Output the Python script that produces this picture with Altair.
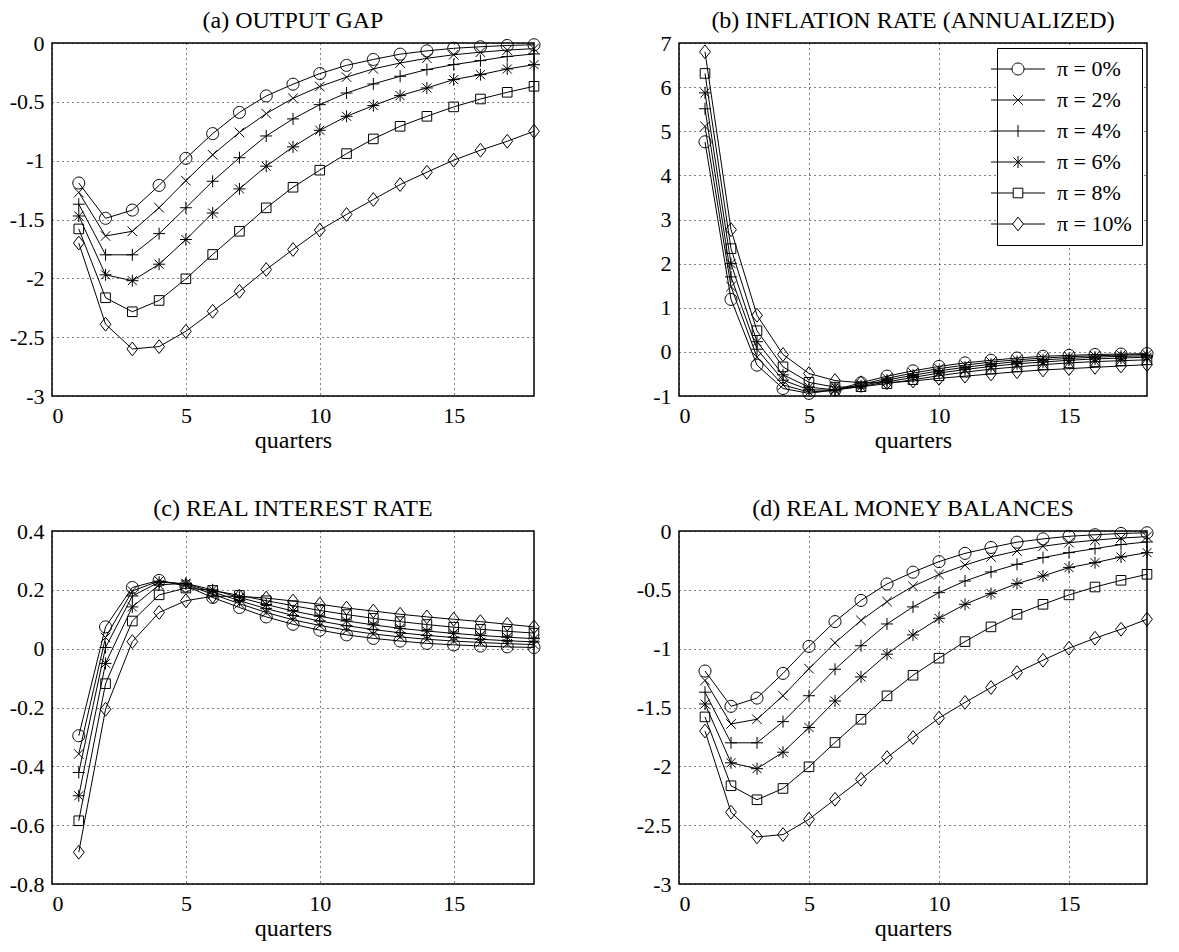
import altair as alt
import pandas as pd

FONT = "Liberation Serif"

quarters = list(range(1, 19))
series_labels = ["π = 0%", "π = 2%", "π = 4%", "π = 6%", "π = 8%", "π = 10%"]

# (a) OUTPUT GAP
gap_pi0 = [-1.19, -1.49, -1.42, -1.21, -0.98, -0.77, -0.59, -0.45, -0.35, -0.26, -0.19, -0.14, -0.095, -0.067, -0.045, -0.032, -0.021, -0.015]
gap_pi2 = [-1.27, -1.64, -1.60, -1.40, -1.17, -0.95, -0.76, -0.60, -0.47, -0.37, -0.29, -0.22, -0.17, -0.13, -0.10, -0.078, -0.06, -0.048]
gap_pi4 = [-1.37, -1.80, -1.80, -1.62, -1.40, -1.175, -0.975, -0.79, -0.645, -0.524, -0.425, -0.348, -0.283, -0.226, -0.184, -0.15, -0.115, -0.093]
gap_pi6 = [-1.47, -1.97, -2.02, -1.88, -1.67, -1.445, -1.24, -1.047, -0.883, -0.742, -0.623, -0.532, -0.447, -0.382, -0.311, -0.269, -0.221, -0.184]
gap_pi8 = [-1.58, -2.165, -2.284, -2.188, -2.004, -1.797, -1.60, -1.401, -1.226, -1.081, -0.94, -0.815, -0.708, -0.623, -0.543, -0.476, -0.419, -0.368]
gap_pi10 = [-1.70, -2.39, -2.60, -2.58, -2.45, -2.28, -2.11, -1.925, -1.755, -1.59, -1.457, -1.33, -1.203, -1.098, -0.996, -0.911, -0.835, -0.75]

# (b) INFLATION RATE (ANNUALIZED)
infl_pi0 = [4.76, 1.19, -0.30, -0.83, -0.94, -0.86, -0.70, -0.55, -0.43, -0.33, -0.25, -0.19, -0.14, -0.10, -0.08, -0.06, -0.05, -0.04]
infl_pi2 = [5.11, 1.48, -0.12, -0.75, -0.91, -0.87, -0.74, -0.60, -0.48, -0.38, -0.30, -0.23, -0.18, -0.14, -0.11, -0.09, -0.07, -0.06]
infl_pi4 = [5.51, 1.70, 0.06, -0.64, -0.86, -0.87, -0.77, -0.64, -0.53, -0.43, -0.35, -0.28, -0.22, -0.18, -0.15, -0.12, -0.10, -0.09]
infl_pi6 = [5.87, 2.00, 0.23, -0.52, -0.80, -0.86, -0.79, -0.68, -0.58, -0.48, -0.40, -0.33, -0.27, -0.23, -0.19, -0.16, -0.14, -0.12]
infl_pi8 = [6.31, 2.34, 0.48, -0.34, -0.69, -0.80, -0.79, -0.72, -0.63, -0.54, -0.46, -0.39, -0.34, -0.29, -0.25, -0.22, -0.20, -0.18]
infl_pi10 = [6.80, 2.77, 0.83, -0.06, -0.49, -0.65, -0.70, -0.70, -0.66, -0.60, -0.55, -0.50, -0.45, -0.41, -0.38, -0.35, -0.32, -0.29]

# (c) REAL INTEREST RATE
rate_pi0 = [-0.296, 0.074, 0.208, 0.232, 0.213, 0.174, 0.140, 0.108, 0.083, 0.063, 0.047, 0.035, 0.026, 0.018, 0.013, 0.009, 0.006, 0.004]
rate_pi2 = [-0.358, 0.038, 0.196, 0.230, 0.218, 0.185, 0.153, 0.123, 0.098, 0.079, 0.063, 0.050, 0.040, 0.032, 0.026, 0.021, 0.017, 0.014]
rate_pi4 = [-0.421, 0.004, 0.179, 0.226, 0.221, 0.193, 0.163, 0.136, 0.113, 0.094, 0.078, 0.065, 0.054, 0.045, 0.038, 0.032, 0.027, 0.023]
rate_pi6 = [-0.500, -0.050, 0.142, 0.217, 0.222, 0.200, 0.174, 0.150, 0.128, 0.110, 0.094, 0.081, 0.069, 0.060, 0.052, 0.045, 0.039, 0.034]
rate_pi8 = [-0.585, -0.119, 0.094, 0.183, 0.206, 0.198, 0.181, 0.163, 0.146, 0.130, 0.116, 0.103, 0.092, 0.082, 0.073, 0.066, 0.059, 0.053]
rate_pi10 = [-0.692, -0.206, 0.024, 0.123, 0.163, 0.178, 0.178, 0.172, 0.162, 0.151, 0.138, 0.128, 0.117, 0.108, 0.100, 0.092, 0.083, 0.074]

# (d) REAL MONEY BALANCES
money_pi0 = [-1.19, -1.49, -1.42, -1.21, -0.98, -0.77, -0.59, -0.45, -0.35, -0.26, -0.19, -0.14, -0.095, -0.067, -0.045, -0.032, -0.021, -0.015]
money_pi2 = [-1.27, -1.64, -1.60, -1.40, -1.17, -0.95, -0.76, -0.60, -0.47, -0.37, -0.29, -0.22, -0.17, -0.13, -0.10, -0.078, -0.06, -0.048]
money_pi4 = [-1.37, -1.80, -1.80, -1.62, -1.40, -1.175, -0.975, -0.79, -0.645, -0.524, -0.425, -0.348, -0.283, -0.226, -0.184, -0.15, -0.115, -0.093]
money_pi6 = [-1.47, -1.97, -2.02, -1.88, -1.67, -1.445, -1.24, -1.047, -0.883, -0.742, -0.623, -0.532, -0.447, -0.382, -0.311, -0.269, -0.221, -0.184]
money_pi8 = [-1.58, -2.165, -2.284, -2.188, -2.004, -1.797, -1.60, -1.401, -1.226, -1.081, -0.94, -0.815, -0.708, -0.623, -0.543, -0.476, -0.419, -0.368]
money_pi10 = [-1.70, -2.39, -2.60, -2.58, -2.45, -2.28, -2.11, -1.925, -1.755, -1.59, -1.457, -1.33, -1.203, -1.098, -0.996, -0.911, -0.835, -0.75]

x_ticks = [0, 5, 10, 15]
gap_ticks = [0, -0.5, -1, -1.5, -2, -2.5, -3]
infl_ticks = [7, 6, 5, 4, 3, 2, 1, 0, -1]
rate_ticks = [0.4, 0.2, 0, -0.2, -0.4, -0.6, -0.8]
money_ticks = [0, -0.5, -1, -1.5, -2, -2.5, -3]

# marker outlines (open symbols), unit box -1..1
SHAPES = [
    "M1,0A1,1,0,1,1,-1,0A1,1,0,1,1,1,0Z",
    "M-0.8,-0.8L0.8,0.8M-0.8,0.8L0.8,-0.8",
    "M-1,0H1M0,-1V1",
    "M-1,0H1M0,-1V1M-0.75,-0.75L0.75,0.75M-0.75,0.75L0.75,-0.75",
    "M-0.8,-0.8H0.8V0.8H-0.8Z",
    "M0,-1.15L0.9,0L0,1.15L-0.9,0Z",
]
# legend symbols: same marker with a line segment through it
LEG = [
    "M-4.5,0H-1M1,0H4.5M1,0A1,1,0,1,1,-1,0A1,1,0,1,1,1,0Z",
    "M-4.5,0H4.5M-0.8,-0.8L0.8,0.8M-0.8,0.8L0.8,-0.8",
    "M-4.5,0H4.5M0,-1V1",
    "M-4.5,0H4.5M0,-1V1M-0.75,-0.75L0.75,0.75M-0.75,0.75L0.75,-0.75",
    "M-4.5,0H-0.8M0.8,0H4.5M-0.8,-0.8H0.8V0.8H-0.8Z",
    "M-4.5,0H-0.9M0.9,0H4.5M0,-1.15L0.9,0L0,1.15L-0.9,0Z",
]

PH = 353

AXIS_STYLE = dict(
    labelFont=FONT, labelFontSize=22, labelColor="black",
    titleFont=FONT, titleFontSize=24, titleFontWeight="normal", titleColor="black",
    domain=False, ticks=False, tickSize=0,
    grid=True, gridColor="black", gridDash=[1, 4], gridWidth=1, gridOpacity=1,
)


def panel(series, title, ydom, yticks, width, legend=False):
    rows = []
    for lab, vals in zip(series_labels, series):
        for q, v in zip(quarters, vals):
            rows.append({"q": q, "v": v, "s": lab})
    df = pd.DataFrame(rows)
    x = alt.X(
        "q:Q",
        scale=alt.Scale(domain=[0, 18], nice=False, zero=False),
        axis=alt.Axis(values=x_ticks, title="quarters", labelPadding=9,
                      minExtent=30, maxExtent=30, titlePadding=2, **AXIS_STYLE),
    )
    y = alt.Y(
        "v:Q",
        scale=alt.Scale(domain=ydom, nice=False, zero=False),
        axis=alt.Axis(values=yticks, title=None, labelPadding=8, format="~g",
                      minExtent=43, maxExtent=43,
                      labelExpr="replace(datum.label, '\u2212', '-')", **AXIS_STYLE),
    )
    line = alt.Chart(df).mark_line(color="black", strokeWidth=1).encode(
        x=x, y=y, detail="s:N"
    )
    pts = alt.Chart(df).mark_point(
        filled=False, size=144, color="black", strokeWidth=1, opacity=1
    ).encode(
        x=x, y=y,
        shape=alt.Shape("s:N", scale=alt.Scale(domain=series_labels, range=SHAPES), legend=None),
    )
    layers = [line, pts]
    if legend:
        leg = alt.Chart(pd.DataFrame({"lab": series_labels})).mark_point(
            filled=False, size=144, color="black", strokeWidth=1, opacity=0
        ).encode(
            shape=alt.Shape(
                "lab:N",
                scale=alt.Scale(domain=series_labels, range=LEG),
                legend=alt.Legend(
                    title=None, orient="none", legendX=318, legendY=5,
                    padding=10, strokeColor="black", fillColor="white",
                    labelFont=FONT, labelFontSize=22, labelColor="black",
                    labelOffset=28, rowPadding=9, symbolSize=144,
                    symbolOpacity=1, symbolStrokeColor="black",
                    symbolFillColor="white", symbolStrokeWidth=1,
                ),
            )
        )
        layers.append(leg)
    ch = alt.layer(*layers).properties(
        width=width, height=PH,
        title=alt.TitleParams(title, fontSize=24, font=FONT, fontWeight="normal",
                              color="black", anchor="middle", offset=-1),
    )
    if legend:
        ch = ch.resolve_scale(shape="independent")
    return ch


a = panel([gap_pi0, gap_pi2, gap_pi4, gap_pi6, gap_pi8, gap_pi10], "(a) OUTPUT GAP", [-3, 0], gap_ticks, 482)
b = panel([infl_pi0, infl_pi2, infl_pi4, infl_pi6, infl_pi8, infl_pi10], "(b) INFLATION RATE (ANNUALIZED)", [-1, 7], infl_ticks, 468, legend=True)
c = panel([rate_pi0, rate_pi2, rate_pi4, rate_pi6, rate_pi8, rate_pi10], "(c) REAL INTEREST RATE", [-0.8, 0.4], rate_ticks, 482)
d = panel([money_pi0, money_pi2, money_pi4, money_pi6, money_pi8, money_pi10], "(d) REAL MONEY BALANCES", [-3, 0], money_ticks, 468)

chart = alt.concat(a, b, c, d, columns=2, spacing={"row": 43, "column": 92}).resolve_scale(
    shape="independent"
).properties(padding=0, background="white").configure_view(
    stroke="black", strokeWidth=1.5
)

chart.save("out.html", embed_options={"renderer": "svg", "actions": False})
